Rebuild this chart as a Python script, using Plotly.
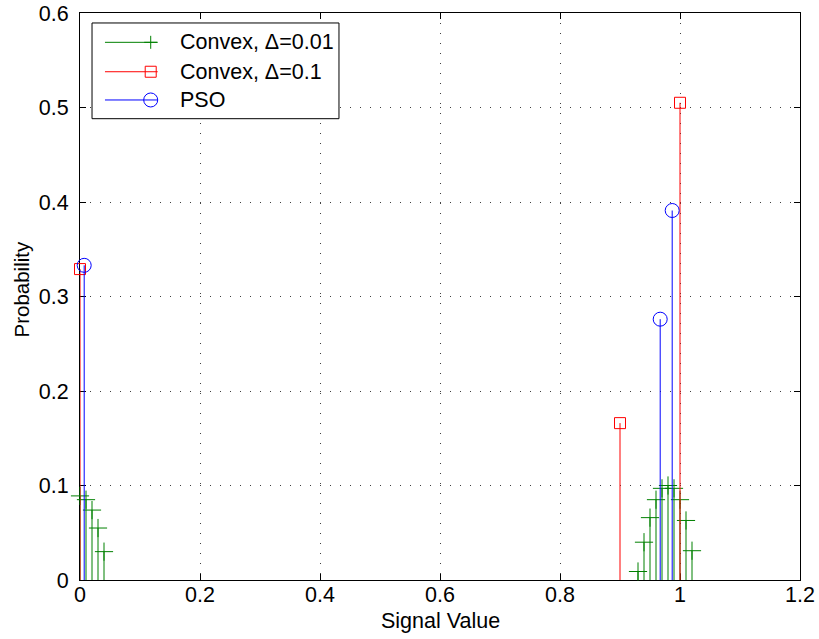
import plotly.graph_objects as go

# Probability mass of each quantizer output level
convex_fine_x = [0.00, 0.01, 0.02, 0.03, 0.04,
                 0.93, 0.94, 0.95, 0.96, 0.97, 0.98, 0.99, 1.00, 1.01, 1.02]
convex_fine_p = [0.089, 0.085, 0.074, 0.055, 0.030,
                 0.009, 0.040, 0.066, 0.085, 0.097, 0.100, 0.097, 0.085, 0.063, 0.031]

convex_coarse_x = [0.0, 0.9, 1.0]
convex_coarse_p = [0.329, 0.166, 0.505]

pso_x = [0.007, 0.967, 0.987]
pso_p = [0.333, 0.276, 0.391]

x_ticks = [0, 0.2, 0.4, 0.6, 0.8, 1.0, 1.2]
x_tick_text = ["0", "0.2", "0.4", "0.6", "0.8", "1", "1.2"]
y_ticks = [0, 0.1, 0.2, 0.3, 0.4, 0.5, 0.6]
y_tick_text = ["0", "0.1", "0.2", "0.3", "0.4", "0.5", "0.6"]

GREEN = "#008000"
RED = "#ff0000"
BLUE = "#0000ff"
FONT = "Liberation Sans, Arial, Helvetica, sans-serif"
FS = 21.5


def stem_xy(xs, ps):
    sx, sy = [], []
    for x, p in zip(xs, ps):
        sx += [x, x, None]
        sy += [0, p, None]
    return sx, sy


series = [
    ("Convex, \u0394=0.01", convex_fine_x, convex_fine_p, GREEN, "cross-thin-open", 13),
    ("Convex, \u0394=0.1", convex_coarse_x, convex_coarse_p, RED, "square-open", 11),
    ("PSO", pso_x, pso_p, BLUE, "circle-open", 14),
]

fig = go.Figure()
for name, xs, ps, col, sym, size in series:
    sx, sy = stem_xy(xs, ps)
    fig.add_trace(go.Scatter(x=sx, y=sy, mode="lines", line=dict(color=col, width=1),
                             showlegend=False, hoverinfo="skip", cliponaxis=False))
    fig.add_trace(go.Scatter(x=xs, y=ps, mode="markers", name=name, showlegend=False,
                             marker=dict(symbol=sym, size=size, color=col,
                                         line=dict(color=col, width=1)),
                             cliponaxis=False))

axis_common = dict(
    showline=True, linecolor="black", linewidth=1, mirror="ticks",
    ticks="inside", ticklen=6, tickwidth=1, tickcolor="black",
    showgrid=True, gridcolor="rgba(0,0,0,0.75)", gridwidth=1, griddash="1px,9px",
    zeroline=False, layer="below traces", automargin=False,
    tickfont=dict(family=FONT, size=FS, color="black"),
)

fig.update_xaxes(range=[0, 1.2], tickvals=x_ticks, ticktext=x_tick_text,
                 ticklabelstandoff=-5, **axis_common)
fig.update_yaxes(range=[0, 0.6], tickvals=y_ticks, ticktext=y_tick_text,
                 ticklabelstandoff=6, **axis_common)

# Axis titles
annotations = [
    dict(text="Signal Value", x=0.5, y=0, xref="paper", yref="paper",
         xanchor="center", yanchor="middle", yshift=-41, showarrow=False,
         font=dict(family=FONT, size=FS, color="black")),
    dict(text="Probability", x=0, y=0.5, xref="paper", yref="paper",
         xanchor="center", yanchor="middle", xshift=-59, yshift=7, textangle=-90,
         showarrow=False, font=dict(family=FONT, size=20.5, color="black")),
]

# Legend drawn in the upper-left corner of the axes
shapes = [dict(type="rect", xref="paper", yref="paper", x0=0.0167, x1=0.3597,
               y0=0.8136, y1=0.9824, fillcolor="white", line=dict(color="black", width=1),
               layer="above")]
rows = [0.9483, 0.8964, 0.8466]
lx0, lx1, mx, tx = 0.0347, 0.1079, 0.0982, 0.1361
for (name, _, _, col, sym, _), ry in zip(series, rows):
    shapes.append(dict(type="line", xref="paper", yref="paper", x0=lx0, x1=lx1, y0=ry, y1=ry,
                       line=dict(color=col, width=1), layer="above"))
    pix = dict(xref="paper", yref="paper", xsizemode="pixel", ysizemode="pixel",
               xanchor=mx, yanchor=ry, line=dict(color=col, width=1), layer="above")
    if sym.startswith("cross"):
        shapes.append(dict(type="line", x0=0, x1=0, y0=-6.5, y1=6.5, **pix))
        shapes.append(dict(type="line", x0=-6.5, x1=6.5, y0=0, y1=0, **pix))
    elif sym.startswith("square"):
        shapes.append(dict(type="rect", x0=-5.5, x1=5.5, y0=-5.5, y1=5.5, **pix))
    else:
        shapes.append(dict(type="circle", x0=-7, x1=7, y0=-7, y1=7, **pix))
    annotations.append(dict(text=name, x=tx, y=ry, xref="paper", yref="paper",
                            xanchor="left", yanchor="middle", showarrow=False,
                            font=dict(family=FONT, size=FS, color="black")))

fig.update_layout(
    width=819, height=639,
    margin=dict(l=80, r=19, t=13, b=59, autoexpand=False),
    paper_bgcolor="white", plot_bgcolor="white",
    showlegend=False,
    shapes=shapes, annotations=annotations,
    font=dict(family=FONT, size=FS, color="black"),
)

fig.write_html("out.html")
